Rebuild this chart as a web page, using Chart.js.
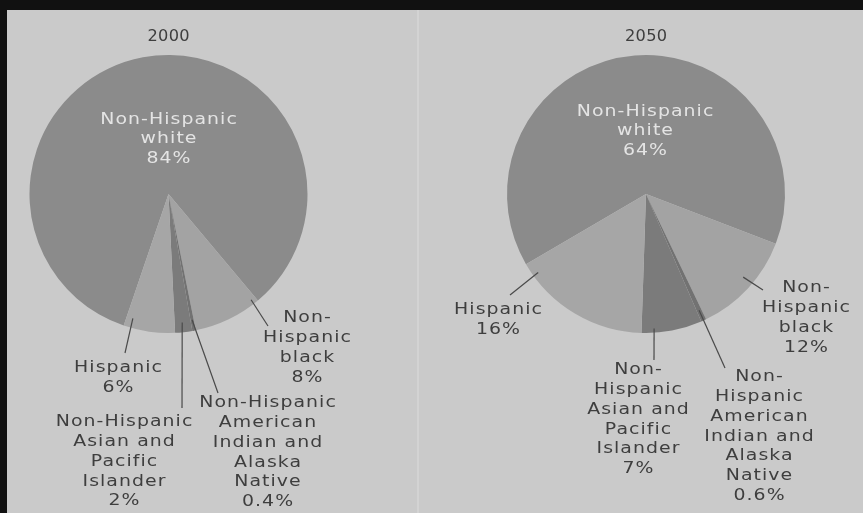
<!DOCTYPE html>
<html>
<head>
<meta charset="utf-8">
<script src="https://cdn.jsdelivr.net/npm/chart.js@4"></script>
<style>
  html, body { margin: 0; padding: 0; background: #111; }
  #page {
    position: relative; width: 863px; height: 513px; overflow: hidden;
    background: #111;
  }
  #paper {
    position: absolute; left: 7px; top: 10px; right: 0; bottom: 0;
    background: #cacaca;
  }
  #fold { position: absolute; left: 417px; top: 10px; width: 2px; bottom: 0; background: #d3d3d3; }
  canvas { position: absolute; top: 0; }
  #pie2000 { left: 0; }
  #pie2050 { left: 431px; }
</style>
</head>
<body>
<div id="page">
  <div id="paper"></div>
  <div id="fold"></div>
  <canvas id="pie2000" width="431" height="513"></canvas>
  <canvas id="pie2050" width="432" height="513"></canvas>
</div>
<script>
const years = ['2000', '2050']
const categories = [
    'Non-Hispanic white',
    'Non-Hispanic black',
    'Non-Hispanic American Indian and Alaska Native',
    'Non-Hispanic Asian and Pacific Islander',
    'Hispanic'
]
const share2000 = [84, 8, 0.4, 2, 6]
const share2050 = [64, 12, 0.6, 7, 16]

const sliceColors = ['#8b8b8b', '#a3a3a3', '#727272', '#7b7b7b', '#a6a6a6']
const FONT = "16px 'DejaVu Sans', sans-serif"

// how each category name is wrapped and where its label sits (offset from the pie centre)
const labels2000 = [
    { lines: ['Non-Hispanic', 'white'], dx: 0, dy: -74, inside: true },
    { lines: ['Non-', 'Hispanic', 'black'], dx: 138.5, dy: 124, lead: { t: 0.07, k: 0.965, dx: 99.5, dy: 132 } },
    { lines: ['Non-Hispanic', 'American', 'Indian and', 'Alaska', 'Native'], dx: 99, dy: 209, lead: { t: 0.5, k: 0.92, dx: 49.5, dy: 199 } },
    { lines: ['Non-Hispanic', 'Asian and', 'Pacific', 'Islander'], dx: -44.5, dy: 228, lead: { t: 0.53, k: 0.93, dx: 13.5, dy: 214 } },
    { lines: ['Hispanic'], dx: -50.5, dy: 174, lead: { t: 0.87, k: 0.93, dx: -43.5, dy: 159 } }
]
const labels2050 = [
    { lines: ['Non-Hispanic', 'white'], dx: -1, dy: -82, inside: true },
    { lines: ['Non-', 'Hispanic', 'black'], dx: 160, dy: 94, lead: { t: 0.45, k: 0.92, dx: 117, dy: 96 } },
    { lines: ['Non-', 'Hispanic', 'American', 'Indian and', 'Alaska', 'Native'], dx: 113, dy: 183, lead: { t: 0.5, k: 0.92, dx: 79, dy: 174 } },
    { lines: ['Non-', 'Hispanic', 'Asian and', 'Pacific', 'Islander'], dx: -8, dy: 176, lead: { t: 0.79, k: 0.97, dx: 8, dy: 166 } },
    { lines: ['Hispanic'], dx: -148, dy: 116, lead: { t: 0.9, k: 0.96, dx: -136, dy: 101 } }
]

const fmtPct = v => String(v) + '%'

// the printed type is a wide grotesque, so stretch the glyphs a little
const drawWide = (ctx, text, x, y, stretch, spacing) => {
    ctx.save()
    ctx.translate(x, y)
    ctx.scale(stretch, 1)
    ctx.letterSpacing = spacing + 'px'
    ctx.fillText(text, spacing / 2, 0)
    ctx.restore()
}

const sliceLabels = {
    id: 'sliceLabels',
    afterDatasetsDraw(chart, args, opts) {
        const ctx = chart.ctx
        const meta = chart.getDatasetMeta(0)
        const values = chart.data.datasets[0].data
        ctx.save()
        ctx.textAlign = 'center'
        ctx.textBaseline = 'middle'

        // year heading above the pie
        const cx = meta.data[0].x
        ctx.font = "15px 'DejaVu Sans', sans-serif"
        ctx.fillStyle = '#3e3e3e'
        drawWide(ctx, opts.title, cx, 37.5, 1.08, 0.3)

        ctx.font = FONT
        opts.layout.forEach((lab, i) => {
            const arc = meta.data[i]
            const p = arc.getProps(['x', 'y', 'startAngle', 'endAngle', 'outerRadius'], true)
            if (lab.lead) {
                const a = p.startAngle + lab.lead.t * (p.endAngle - p.startAngle)
                const r = p.outerRadius * lab.lead.k
                ctx.beginPath()
                ctx.moveTo(p.x + r * Math.cos(a), p.y + r * Math.sin(a))
                ctx.lineTo(p.x + lab.lead.dx, p.y + lab.lead.dy)
                ctx.strokeStyle = '#4a4a4a'
                ctx.lineWidth = 1.2
                ctx.stroke()
            }
            const lines = lab.lines.concat([fmtPct(values[i])])
            const lh = lab.inside ? 19.3 : 19.8
            ctx.fillStyle = lab.inside ? '#e4e4e4' : '#3e3e3e'
            lines.forEach((s, j) => {
                drawWide(ctx, s, p.x + lab.dx, p.y + lab.dy + j * lh, 1.18, 0.9)
            })
        })
        ctx.restore()
    }
}

const makePie = (canvasId, title, values, rotation, padding, layout) => {
    return new Chart(document.getElementById(canvasId), {
        type: 'pie',
        data: {
            labels: categories,
            datasets: [{
                data: values,
                backgroundColor: sliceColors,
                borderWidth: 0,
                hoverOffset: 0
            }]
        },
        options: {
            responsive: false,
            animation: false,
            devicePixelRatio: 1,
            rotation: rotation,
            layout: { padding: padding },
            events: [],
            plugins: {
                legend: { display: false },
                tooltip: { enabled: false },
                sliceLabels: { title: title, layout: layout }
            }
        },
        plugins: [sliceLabels]
    })
}

makePie('pie2000', years[0], share2000, 198.8,
    { left: 29.5, right: 123.5, top: 55, bottom: 180 }, labels2000)
makePie('pie2050', years[1], share2050, 239.7,
    { left: 76, right: 78, top: 55, bottom: 180 }, labels2050)
</script>
</body>
</html>
